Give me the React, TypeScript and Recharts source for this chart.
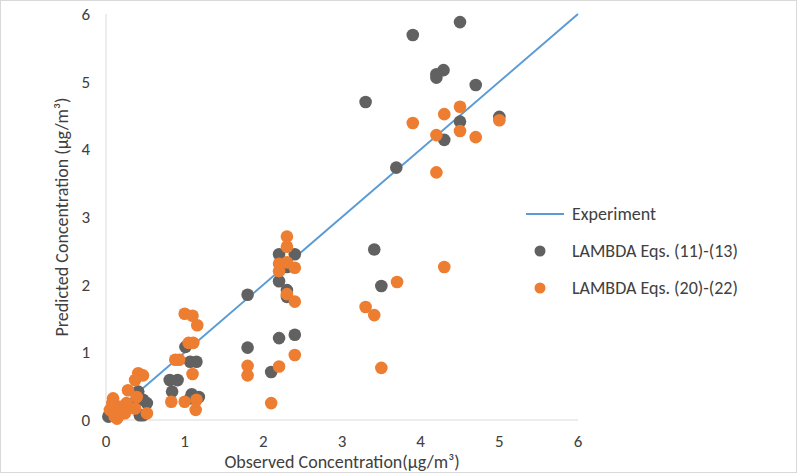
import { ScatterChart, Scatter, XAxis, YAxis, Legend } from "recharts"

// observed vs predicted
const expX = [0, 6]
const expY = [0, 6]

const eq11X = [4.5, 3.9, 3.3, 4.29, 4.2, 4.2, 4.7, 5.0, 4.5, 4.3, 3.69, 3.41, 3.5, 2.2, 2.4, 2.3, 2.2, 2.3, 2.3, 1.8, 1.8, 2.2, 2.4, 2.1, 1.01, 1.07, 1.15, 0.81, 0.91, 0.84, 1.09, 1.18, 1.07, 0.41, 0.39, 0.47, 0.52, 0.03, 0.47, 0.05, 0.2, 0.3, 0.43]
const eq11Y = [5.88, 5.69, 4.7, 5.17, 5.11, 5.06, 4.95, 4.48, 4.41, 4.14, 3.73, 2.52, 1.98, 2.45, 2.45, 2.26, 2.05, 1.92, 1.82, 1.85, 1.07, 1.21, 1.26, 0.71, 1.08, 0.86, 0.86, 0.59, 0.59, 0.42, 0.38, 0.34, 0.32, 0.42, 0.3, 0.3, 0.25, 0.05, 0.07, 0.1, 0.1, 0.18, 0.07]

const eq20X = [3.9, 4.3, 4.5, 5.0, 4.2, 4.5, 4.7, 4.2, 4.3, 3.7, 3.3, 3.41, 3.5, 2.3, 2.3, 2.2, 2.3, 2.2, 2.4, 2.3, 2.4, 2.4, 1.8, 1.8, 2.2, 2.1, 1.0, 1.1, 1.16, 1.05, 1.11, 0.88, 0.93, 1.1, 0.83, 1.0, 1.15, 1.14, 0.41, 0.47, 0.37, 0.28, 0.39, 0.09, 0.26, 0.16, 0.37, 0.52, 0.05, 0.11, 0.24, 0.14, 0.08, 0.15, 0.12]
const eq20Y = [4.39, 4.52, 4.63, 4.43, 4.21, 4.27, 4.18, 3.66, 2.26, 2.04, 1.67, 1.55, 0.77, 2.71, 2.56, 2.31, 2.33, 2.2, 2.25, 1.86, 1.75, 0.96, 0.8, 0.66, 0.79, 0.25, 1.57, 1.54, 1.4, 1.14, 1.14, 0.89, 0.89, 0.68, 0.27, 0.27, 0.3, 0.15, 0.69, 0.66, 0.59, 0.44, 0.34, 0.32, 0.25, 0.2, 0.17, 0.1, 0.15, 0.05, 0.1, 0.02, 0.25, 0.08, 0.12]

const axisTicks = [0, 1, 2, 3, 4, 5, 6]

const toPoints = (xs: number[], ys: number[]) => xs.map((x, i) => ({ x, y: ys[i] }))

const expData = toPoints(expX, expY)
const eq11Data = toPoints(eq11X, eq11Y)
const eq20Data = toPoints(eq20X, eq20Y)

const FONT = "Carlito, Lato, sans-serif"
const GRAY = "#616161"
const ORANGE = "#ed7d31"
const BLUE = "#5b9bd5"
const TEXT = "#404040"

const dot = (color: string) => (props: any) => (
  <circle cx={props.cx} cy={props.cy} r={6.3} fill={color} />
)

const renderLegend = () => {
  const row = { display: "flex", alignItems: "center", height: 37 }
  const txt = { fontFamily: FONT, fontSize: 18, color: TEXT, marginLeft: 6 }
  return (
    <div>
      <div style={row}>
        <svg width={40} height={10}>
          <line x1={0} y1={5} x2={38} y2={5} stroke={BLUE} strokeWidth={2} />
        </svg>
        <span style={txt}>Experiment</span>
      </div>
      <div style={row}>
        <svg width={40} height={14}>
          <circle cx={14} cy={7} r={5.5} fill={GRAY} />
        </svg>
        <span style={txt}>LAMBDA Eqs. (11)-(13)</span>
      </div>
      <div style={row}>
        <svg width={40} height={14}>
          <circle cx={14} cy={7} r={5.5} fill={ORANGE} />
        </svg>
        <span style={txt}>LAMBDA Eqs. (20)-(22)</span>
      </div>
    </div>
  )
}

export default function App() {
  return (
    <div style={{ position: "absolute", left: 0, top: 0, width: 797, height: 473, background: "#fff" }}>
      <ScatterChart width={797} height={473} margin={{ top: 14, right: 219, bottom: 0, left: 46 }}>
        <XAxis
          type="number"
          dataKey="x"
          domain={[0, 6]}
          ticks={axisTicks}
          height={53}
          tickLine={false}
          tickSize={0}
          tickMargin={15}
          axisLine={{ stroke: "#d9d9d9" }}
          tick={{ fontFamily: FONT, fontSize: 17, fill: TEXT }}
          label={{
            value: "Observed Concentration(µg/m³)",
            position: "insideBottom",
            offset: 5,
            style: { fontFamily: FONT, fontSize: 18, fill: TEXT },
          }}
        />
        <YAxis
          type="number"
          dataKey="y"
          domain={[0, 6]}
          ticks={axisTicks}
          width={60}
          tickLine={false}
          tickSize={0}
          tickMargin={16}
          axisLine={{ stroke: "#d9d9d9" }}
          tick={{ fontFamily: FONT, fontSize: 17, fill: TEXT }}
          label={{
            value: "Predicted Concentration (µg/m³)",
            angle: -90,
            position: "insideLeft",
            offset: 16,
            style: { textAnchor: "middle", fontFamily: FONT, fontSize: 18, fill: TEXT },
          }}
        />
        <Legend
          content={renderLegend}
          layout="horizontal"
          verticalAlign="middle"
          align="center"
          wrapperStyle={{ left: 526, top: 195, width: 265 }}
        />
        <Scatter
          name="Experiment"
          data={expData}
          line={{ stroke: BLUE, strokeWidth: 2 }}
          shape={() => <g />}
          isAnimationActive={false}
        />
        <Scatter name="LAMBDA Eqs. (11)-(13)" data={eq11Data} shape={dot(GRAY)} isAnimationActive={false} />
        <Scatter name="LAMBDA Eqs. (20)-(22)" data={eq20Data} shape={dot(ORANGE)} isAnimationActive={false} />
      </ScatterChart>
      <div
        style={{
          position: "absolute",
          inset: 0,
          border: "1.5px solid #d9d9d9",
          pointerEvents: "none",
        }}
      />
    </div>
  )
}
